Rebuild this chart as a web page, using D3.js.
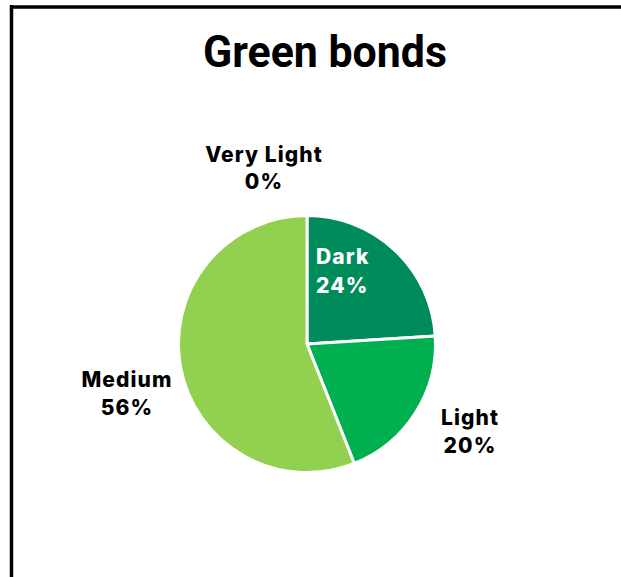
<!DOCTYPE html>
<html>
<head>
<meta charset="utf-8">
<script src="https://cdn.jsdelivr.net/npm/d3@7"></script>
<style>
  html, body { margin: 0; padding: 0; background: #fff; }
  svg { display: block; }
</style>
</head>
<body>
<svg id="chart" width="621" height="577"></svg>
<script>
// Share of green bonds by shade
const categories = ["Dark", "Light", "Medium", "Very Light"];
const shares = [24, 20, 56, 0];
const colours = ["#008C5A", "#00B050", "#92D050", "#C6E9A6"];

const W = 621, H = 577;
const svg = d3.select("#chart");

// frame: top and left rules
svg.append("line").attr("x1", 10).attr("y1", 7).attr("x2", W).attr("y2", 7)
  .attr("stroke", "#000").attr("stroke-width", 3.5);
svg.append("line").attr("x1", 11.5).attr("y1", 5).attr("x2", 11.5).attr("y2", H)
  .attr("stroke", "#000").attr("stroke-width", 3.5);

svg.append("text")
  .attr("x", 325).attr("y", 67)
  .attr("text-anchor", "middle")
  .attr("font-family", "Roboto, 'DejaVu Sans', sans-serif")
  .attr("font-weight", 700)
  .attr("font-size", 44)
  .attr("textLength", 244)
  .attr("lengthAdjust", "spacingAndGlyphs")
  .attr("fill", "#000")
  .text("Green bonds");

const cx = 307, cy = 344, r = 128.5;
const data = categories.map((c, i) => ({ cat: c, value: shares[i], colour: colours[i] }));

const pie = d3.pie().sort(null).value(d => d.value);
const arc = d3.arc().innerRadius(0).outerRadius(r);
const arcs = pie(data);

const g = svg.append("g").attr("transform", `translate(${cx},${cy})`);
g.selectAll("path")
  .data(arcs.filter(a => a.data.value > 0))
  .join("path")
  .attr("d", arc)
  .attr("fill", d => d.data.colour)
  .attr("stroke", "#fff")
  .attr("stroke-width", 3)
  .attr("stroke-linejoin", "round");

// label placement per category
const labelPos = {
  "Dark":       { x: 316, y: 264, dy: 29, anchor: "start",  fill: "#fff" },
  "Light":      { x: 470, y: 425, dy: 28, anchor: "middle", fill: "#000" },
  "Medium":     { x: 127, y: 387, dy: 28, anchor: "middle", fill: "#000" },
  "Very Light": { x: 264, y: 162, dy: 27, anchor: "middle", fill: "#000" }
};

const labels = svg.append("g")
  .attr("font-family", "Inter, 'Open Sans', sans-serif")
  .attr("font-weight", 800)
  .attr("font-size", 21)
  .attr("letter-spacing", 1.1);

arcs.forEach(a => {
  const p = labelPos[a.data.cat];
  const t = labels.append("text")
    .attr("x", p.x).attr("y", p.y)
    .attr("text-anchor", p.anchor)
    .attr("fill", p.fill);
  t.append("tspan").attr("x", p.x).text(a.data.cat);
  t.append("tspan").attr("x", p.x).attr("dy", p.dy).text(d3.format(".0f")(a.data.value) + "%");
});
</script>
</body>
</html>
